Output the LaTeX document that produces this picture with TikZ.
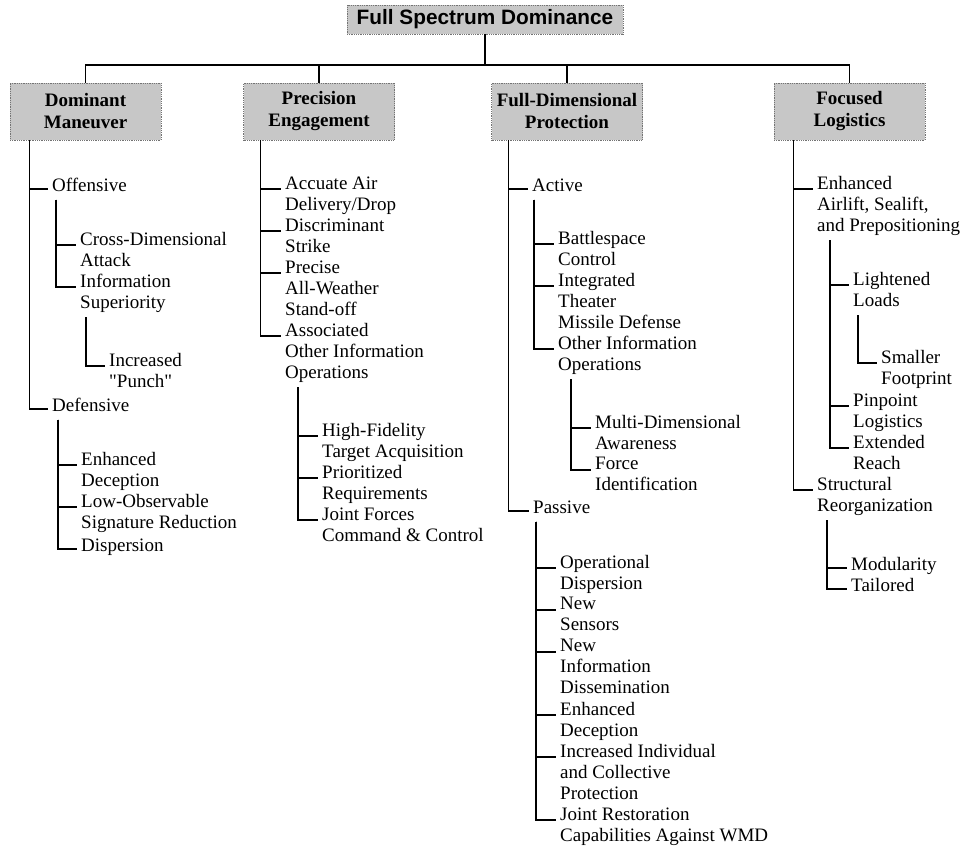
\documentclass[tikz,border=0pt]{standalone}
\usepackage{fontspec}
\setmainfont{Liberation Serif}[Ligatures=TeXOff]
\newfontfamily\headfont{Liberation Sans}
% elbow connector: trunk starts below the parent, turns into a stub before the child's first line
\newcommand{\twig}[4]{\draw[branch] ([shift={(#2pt,#3pt)}]#1.south west) |- ([shift={(-4pt,-12.5pt)}]#4.north west);}
\begin{document}
\begin{tikzpicture}[x=1pt,y=1pt,
  branch/.style={line width=1.7pt},
  item/.style={anchor=north west, inner sep=0pt, align=left, yshift=8.7pt,
    font=\fontsize{19}{21}\selectfont,
    execute at begin node=\strut, execute at end node=\strut},
  catbox/.style={fill=black!22, draw=black!55, densely dotted, line width=0.8pt,
    minimum width=151pt, minimum height=57pt, inner sep=0pt, align=center,
    font=\fontsize{19}{22}\selectfont\bfseries},
  rootbox/.style={fill=black!22, draw=black!55, densely dotted, line width=0.8pt,
    minimum width=276pt, minimum height=29pt, inner sep=0pt,
    font=\headfont\fontsize{20.8}{24}\selectfont\bfseries}
]
\useasboundingbox (0,0) rectangle (963,-848);

% top level
\node[rootbox] (root) at (485,-19.5) {Full Spectrum Dominance};
\node[catbox] (dm) at (85.5,-111.5) {Dominant\\Maneuver};
\node[catbox] (pe) at (319,-111.5) {Precision\\Engagement};
\node[catbox] (fd) at (567,-111.5) {Full-Dimensional\\Protection};
\node[catbox] (fl) at (849.5,-111.5) {Focused\\Logistics};

\coordinate (bus) at (485,-65);
\draw[branch] (root.south) -- (root.south |- bus);
\draw[branch] (dm.north) |- (root.south |- bus) -| (fl.north);
\draw[branch] (pe.north) -- (pe.north |- bus);
\draw[branch] (fd.north) -- (fd.north |- bus);

% Dominant Maneuver
\node[item] (off) at (52,-185) {Offensive};
\node[item] (cda) at (80,-241) {Cross-Dimensional\\Attack};
\node[item] (isup) at (80,-283) {Information\\Superiority};
\node[item] (punch) at (109,-362) {Increased\\"Punch"};
\node[item] (def) at (52,-405) {Defensive};
\node[item] (edec) at (81,-461) {Enhanced\\Deception};
\node[item] (lowobs) at (81,-503) {Low-Observable\\Signature Reduction};
\node[item] (disp) at (81,-545) {Dispersion};

\twig{dm}{20}{0}{off} \twig{dm}{20}{0}{def}
\twig{off}{4}{-2}{cda} \twig{off}{4}{-2}{isup}
\twig{isup}{6}{-2}{punch}
\twig{def}{6}{-2}{edec} \twig{def}{6}{-2}{lowobs} \twig{def}{6}{-2}{disp}

% Precision Engagement
\node[item] (aad) at (285,-185) {Accuate Air\\Delivery/Drop};
\node[item] (dstr) at (285,-227) {Discriminant\\Strike};
\node[item] (paws) at (285,-269) {Precise\\All-Weather\\Stand-off};
\node[item] (assoc) at (285,-332) {Associated\\Other Information\\Operations};
\node[item] (hft) at (322,-432) {High-Fidelity\\Target Acquisition};
\node[item] (prio) at (322,-474) {Prioritized\\Requirements};
\node[item] (jfcc) at (322,-516) {Joint Forces\\Command \& Control};

\twig{pe}{17.5}{0}{aad} \twig{pe}{17.5}{0}{dstr} \twig{pe}{17.5}{0}{paws} \twig{pe}{17.5}{0}{assoc}
\twig{assoc}{13}{-2}{hft} \twig{assoc}{13}{-2}{prio} \twig{assoc}{13}{-2}{jfcc}

% Full-Dimensional Protection
\node[item] (act) at (532,-185) {Active};
\node[item] (bsc) at (558,-240) {Battlespace\\Control};
\node[item] (itmd) at (558,-282) {Integrated\\Theater\\Missile Defense};
\node[item] (oio) at (558,-345) {Other Information\\Operations};
\node[item] (mda) at (595,-424) {Multi-Dimensional\\Awareness};
\node[item] (fid) at (595,-466) {Force\\Identification};
\node[item] (pas) at (533,-507) {Passive};
\node[item] (opd) at (560,-564) {Operational\\Dispersion};
\node[item] (nsen) at (560,-606) {New\\Sensors};
\node[item] (nid) at (560,-648) {New\\Information\\Dissemination};
\node[item] (edec2) at (560,-711) {Enhanced\\Deception};
\node[item] (iicp) at (560,-753) {Increased Individual\\and Collective\\Protection};
\node[item] (jrc) at (560,-816) {Joint Restoration\\Capabilities Against WMD};

\twig{fd}{17.5}{0}{act} \twig{fd}{17.5}{0}{pas}
\twig{act}{2}{-2}{bsc} \twig{act}{2}{-2}{itmd} \twig{act}{2}{-2}{oio}
\twig{oio}{13}{-2}{mda} \twig{oio}{13}{-2}{fid}
\twig{pas}{3}{-2}{opd} \twig{pas}{3}{-2}{nsen} \twig{pas}{3}{-2}{nid}
\twig{pas}{3}{-2}{edec2} \twig{pas}{3}{-2}{iicp} \twig{pas}{3}{-2}{jrc}

% Focused Logistics
\node[item] (eas) at (817,-185) {Enhanced\\Airlift, Sealift,\\and Prepositioning};
\node[item] (ll) at (853,-281) {Lightened\\Loads};
\node[item] (sfp) at (881,-359) {Smaller\\Footprint};
\node[item] (ppl) at (853,-402) {Pinpoint\\Logistics};
\node[item] (er) at (853,-444) {Extended\\Reach};
\node[item] (sr) at (817,-486) {Structural\\Reorganization};
\node[item] (mod) at (851,-564) {Modularity};
\node[item] (tail) at (851,-585) {Tailored};

\twig{fl}{20}{0}{eas} \twig{fl}{20}{0}{sr}
\twig{eas}{13}{-2}{ll} \twig{eas}{13}{-2}{ppl} \twig{eas}{13}{-2}{er}
\twig{ll}{5}{-2}{sfp}
\twig{sr}{10}{-2}{mod} \twig{sr}{10}{-2}{tail}
\end{tikzpicture}
\end{document}
